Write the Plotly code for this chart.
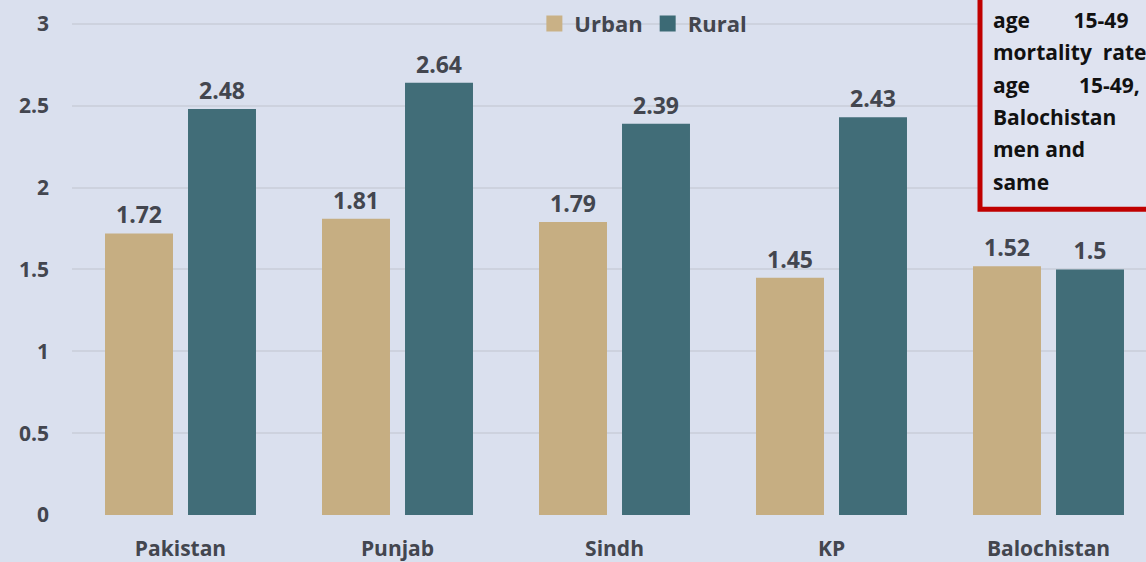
import plotly.graph_objects as go

categories = ["Pakistan", "Punjab", "Sindh", "KP", "Balochistan"]
urban = [1.72, 1.81, 1.79, 1.45, 1.52]
rural = [2.48, 2.64, 2.39, 2.43, 1.5]
y_ticks = [0, 0.5, 1, 1.5, 2, 2.5, 3]
y_tick_labels = ["0", "0.5", "1", "1.5", "2", "2.5", "3"]
note_lines = [
    "age\u00a0\u00a0\u00a0\u00a0\u00a0\u00a0\u00a0\u00a015-49",
    "mortality\u00a0\u00a0rate",
    "age\u00a0\u00a0\u00a0\u00a0\u00a0\u00a0\u00a0\u00a0\u00a015-49,",
    "Balochistan",
    "men and",
    "same",
]

BG = "#dae0ee"
TXT = "#43464f"
FONT = "Open Sans"

fig = go.Figure()
fig.add_trace(go.Bar(
    name="Urban", x=categories, y=urban, marker=dict(color="#c6ae82", line=dict(width=0)),
    text=urban, texttemplate="%{y}", textposition="outside", cliponaxis=False,
    textfont=dict(family=FONT, size=23, color=TXT, weight="bold"), showlegend=False,
))
fig.add_trace(go.Bar(
    name="Rural", x=categories, y=rural, marker=dict(color="#416d78", line=dict(width=0)),
    text=rural, texttemplate="%{y}", textposition="outside", cliponaxis=False,
    textfont=dict(family=FONT, size=23, color=TXT, weight="bold"), showlegend=False,
))
# legend entries
fig.add_trace(go.Scatter(x=[None], y=[None], mode="markers", name="Urban",
                         marker=dict(symbol="square", size=16, color="#c9b186")))
fig.add_trace(go.Scatter(x=[None], y=[None], mode="markers", name="Rural",
                         marker=dict(symbol="square", size=16, color="#3c6a75")))

W, H = 1146, 562
L, B = 72, 45
plot_h = H - B
px_per_unit = 493 / 3.0
cat_px = 217.0

fig.update_layout(
    width=W, height=H,
    margin=dict(l=L, r=0, t=0, b=B, pad=0),
    paper_bgcolor=BG, plot_bgcolor=BG,
    barmode="group", bargap=0.235, bargroupgap=0.181,
    font=dict(family=FONT, color=TXT),
    legend=dict(orientation="h", x=0.532, y=0.954, xanchor="center", yanchor="middle",
                bgcolor="rgba(0,0,0,0)", font=dict(family=FONT, size=22, color=TXT, weight="bold"),
                itemsizing="trace", tracegroupgap=0),
    xaxis=dict(range=[-0.5, -0.5 + (W - L) / cat_px], showgrid=False, zeroline=False,
               showline=False, ticks="", ticklabelstandoff=19,
               tickfont=dict(family=FONT, size=21, color=TXT, weight="bold")),
    yaxis=dict(range=[0, plot_h / px_per_unit], tickvals=y_ticks, ticktext=y_tick_labels,
               showgrid=True, gridcolor="#cdd2de", gridwidth=2, zeroline=False,
               showline=False, ticks="", ticklabelstandoff=22,
               tickfont=dict(family=FONT, size=21, color=TXT, weight="bold")),
)

# note box (cropped at the right edge)
box_left = (980 - L) / (W - L)
box_bottom = (plot_h - 210) / plot_h
fig.add_shape(type="rect", xref="paper", yref="paper", x0=box_left, x1=1.3,
              y0=box_bottom, y1=1.2, line=dict(color="#c00000", width=5),
              fillcolor="#dfe3f0", layer="above")
line_y_px = [20, 52.5, 85, 117.5, 150, 182.5]
for txt, yp in zip(note_lines, line_y_px):
    fig.add_annotation(text=txt, xref="paper", yref="paper",
                       x=(991 - L) / (W - L), y=(plot_h - yp) / plot_h,
                       xanchor="left", yanchor="middle", showarrow=False,
                       font=dict(family=FONT, size=21, color="#111111", weight="bold"))

fig.write_html("out.html", config={"displayModeBar": False},
               post_script="document.body.style.margin='0px';document.body.style.overflow='hidden';")
